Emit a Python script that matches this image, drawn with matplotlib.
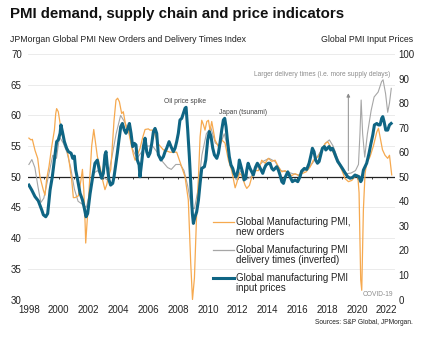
import matplotlib
matplotlib.use("Agg")
import matplotlib.pyplot as plt
from matplotlib.lines import Line2D

plt.rcParams["font.family"] = ["Liberation Sans", "DejaVu Sans"]

# ---- data ----
# Global Manufacturing PMI, new orders (left axis)
orders_t = [1998.0, 1998.14, 1998.23, 1998.41, 1998.59, 1998.74, 1998.97, 1999.08, 1999.19, 1999.35,
            1999.53, 1999.71, 1999.8, 1999.86, 1999.97, 2000.09, 2000.2, 2000.42, 2000.65, 2000.87,
            2000.98, 2001.09, 2001.32, 2001.5, 2001.59, 2001.68, 2001.77, 2001.81, 2001.94, 2002.1,
            2002.21, 2002.35, 2002.59, 2002.77, 2002.95, 2003.1, 2003.22, 2003.33, 2003.49, 2003.62,
            2003.71, 2003.84, 2003.95, 2004.07, 2004.22, 2004.33, 2004.51, 2004.67, 2004.89, 2005.01,
            2005.12, 2005.23, 2005.45, 2005.63, 2005.79, 2006.01, 2006.12, 2006.3, 2006.46, 2006.62,
            2007.01, 2007.46, 2007.91, 2008.25, 2008.47, 2008.69, 2008.85, 2008.97, 2009.1, 2009.25,
            2009.37, 2009.48, 2009.59, 2009.7, 2009.81, 2009.93, 2010.04, 2010.15, 2010.26, 2010.48,
            2010.71, 2010.93, 2011.15, 2011.38, 2011.6, 2011.83, 2011.94, 2012.12, 2012.27, 2012.5,
            2012.61, 2012.79, 2012.94, 2013.17, 2013.39, 2013.61, 2013.84, 2014.06, 2014.29, 2014.51,
            2014.73, 2014.96, 2015.18, 2015.4, 2015.63, 2015.85, 2016.08, 2016.3, 2016.59, 2016.86,
            2017.08, 2017.41, 2017.86, 2018.04, 2018.2, 2018.53, 2018.76, 2018.98, 2019.2, 2019.43,
            2019.65, 2019.87, 2020.05, 2020.14, 2020.25, 2020.32, 2020.43, 2020.54, 2020.65, 2020.88,
            2021.1, 2021.33, 2021.44, 2021.55, 2021.71, 2021.88, 2022.06, 2022.18, 2022.33]
orders_v = [56.3, 56.0, 56.1, 54.3, 53.0, 50.0, 47.8, 47.0, 49.6, 51.7,
            54.9, 57.6, 60.3, 61.1, 60.6, 58.7, 57.0, 55.5, 53.3, 49.5,
            46.6, 46.6, 46.9, 49.6, 51.2, 47.9, 42.4, 39.2, 44.0, 50.5,
            55.0, 57.7, 53.3, 51.6, 49.4, 47.9, 48.7, 50.0, 51.2, 56.0,
            59.2, 62.5, 62.8, 62.2, 60.3, 60.6, 58.1, 57.6, 54.9, 53.6,
            52.7, 53.3, 54.6, 56.4, 57.7, 57.8, 57.6, 57.6, 56.9, 55.5,
            54.4, 54.0, 54.0, 51.6, 50.0, 46.2, 36.0, 30.0, 33.5, 44.0,
            50.0, 56.5, 59.2, 58.5, 57.6, 59.0, 59.2, 57.5, 59.0, 56.0,
            54.9, 56.0, 55.5, 52.7, 51.0, 48.2, 49.0, 50.6, 50.2, 48.6,
            48.1, 48.6, 49.9, 51.0, 51.0, 52.7, 52.2, 53.0, 52.5, 52.7,
            51.6, 50.8, 51.0, 50.5, 50.2, 50.5, 50.2, 50.5, 50.8, 51.6,
            52.7, 53.3, 55.4, 55.7, 55.0, 53.3, 52.2, 51.1, 49.7, 49.2,
            49.4, 50.0, 50.3, 47.4, 33.2, 31.5, 44.6, 50.5, 52.2, 53.3,
            55.0, 57.3, 57.9, 56.5, 54.4, 53.5, 53.0, 53.5, 50.3]

# Global Manufacturing PMI delivery times, inverted (left axis)
deliv_t = [1998.0, 1998.2, 1998.4, 1998.6, 1998.8, 1999.0, 1999.3, 1999.6, 1999.85, 2000.05,
           2000.3, 2000.55, 2000.8, 2001.05, 2001.3, 2001.6, 2001.85, 2002.05, 2002.3, 2002.6,
           2002.95, 2003.25, 2003.55, 2003.85, 2004.15, 2004.4, 2004.7, 2004.95, 2005.25, 2005.55,
           2005.95, 2006.3, 2006.6, 2006.95, 2007.3, 2007.55, 2007.85, 2008.15, 2008.4, 2008.65,
           2008.9, 2009.1, 2009.35, 2009.6, 2009.9, 2010.2, 2010.5, 2010.8, 2011.1, 2011.35,
           2011.6, 2011.9, 2012.2, 2012.55, 2012.9, 2013.3, 2013.7, 2014.1, 2014.5, 2014.9,
           2015.3, 2015.7, 2016.1, 2016.5, 2016.95, 2017.4, 2017.9, 2018.15, 2018.4, 2018.7,
           2019.0, 2019.3, 2019.6, 2019.9, 2020.1, 2020.2, 2020.28, 2020.38, 2020.52, 2020.7,
           2020.95, 2021.15, 2021.42, 2021.65, 2021.75, 2021.92, 2022.06, 2022.18, 2022.3]
deliv_v = [52.0, 52.8, 51.5, 48.5, 45.8, 46.5, 50.0, 53.5, 53.0, 56.5,
           55.5, 54.0, 51.5, 48.0, 46.0, 45.5, 45.0, 47.0, 50.5, 51.0,
           50.0, 49.5, 53.0, 57.0, 60.0, 59.0, 57.5, 54.5, 53.0, 54.0,
           55.0, 55.0, 54.0, 52.5, 51.5, 51.2, 52.0, 52.0, 51.0, 48.5,
           45.0, 44.8, 48.0, 53.5, 57.0, 58.0, 55.5, 55.0, 57.0, 54.5,
           51.5, 49.5, 51.0, 49.5, 50.0, 51.5, 52.5, 53.0, 52.5, 51.0,
           50.8, 50.5, 50.3, 51.0, 52.0, 53.5, 55.5, 56.0, 55.0, 53.0,
           51.5, 50.5, 50.6, 51.0, 52.0, 57.0, 62.5, 57.0, 53.2, 57.0,
           60.8, 63.0, 63.8, 65.5, 65.8, 63.5, 60.5, 62.0, 64.4]

# Global manufacturing PMI input prices (right axis)
prices_t = [1998.0, 1998.19, 1998.41, 1998.63, 1998.86, 1998.97, 1999.13, 1999.26, 1999.42, 1999.57,
            1999.71, 1999.86, 1999.97, 2000.09, 2000.15, 2000.27, 2000.38, 2000.53, 2000.65, 2000.83,
            2000.94, 2001.05, 2001.14, 2001.27, 2001.43, 2001.59, 2001.72, 2001.83, 2001.94, 2002.1,
            2002.28, 2002.43, 2002.59, 2002.72, 2002.88, 2002.99, 2003.1, 2003.17, 2003.26, 2003.37,
            2003.48, 2003.62, 2003.71, 2003.84, 2003.93, 2004.04, 2004.16, 2004.27, 2004.4, 2004.51,
            2004.63, 2004.74, 2004.85, 2004.96, 2005.07, 2005.18, 2005.27, 2005.39, 2005.45, 2005.57,
            2005.68, 2005.79, 2005.9, 2006.01, 2006.12, 2006.24, 2006.35, 2006.46, 2006.57, 2006.68,
            2006.86, 2007.02, 2007.13, 2007.24, 2007.4, 2007.53, 2007.69, 2007.8, 2007.91, 2008.02,
            2008.13, 2008.25, 2008.36, 2008.47, 2008.54, 2008.65, 2008.76, 2008.87, 2008.96, 2009.03,
            2009.14, 2009.25, 2009.37, 2009.48, 2009.59, 2009.77, 2009.86, 2009.99, 2010.1, 2010.21,
            2010.33, 2010.44, 2010.6, 2010.71, 2010.82, 2010.93, 2011.04, 2011.13, 2011.22, 2011.31,
            2011.44, 2011.55, 2011.67, 2011.76, 2011.87, 2011.94, 2012.05, 2012.11, 2012.2, 2012.32,
            2012.43, 2012.54, 2012.61, 2012.7, 2012.83, 2012.94, 2013.05, 2013.19, 2013.32, 2013.46,
            2013.57, 2013.68, 2013.79, 2013.9, 2014.06, 2014.17, 2014.29, 2014.4, 2014.51, 2014.62,
            2014.73, 2014.84, 2014.96, 2015.07, 2015.18, 2015.36, 2015.51, 2015.67, 2015.85, 2016.03,
            2016.18, 2016.29, 2016.47, 2016.63, 2016.79, 2016.92, 2017.01, 2017.12, 2017.23, 2017.35,
            2017.46, 2017.57, 2017.68, 2017.82, 2017.91, 2018.02, 2018.13, 2018.24, 2018.35, 2018.46,
            2018.58, 2018.71, 2018.87, 2019.02, 2019.2, 2019.38, 2019.54, 2019.7, 2019.87, 2020.14,
            2020.25, 2020.32, 2020.43, 2020.54, 2020.65, 2020.81, 2020.94, 2021.06, 2021.17, 2021.33,
            2021.44, 2021.55, 2021.66, 2021.73, 2021.82, 2021.93, 2022.06, 2022.18, 2022.29]
prices_v = [46.6, 44.6, 41.9, 40.2, 36.5, 34.5, 33.7, 35.0, 44.6, 50.0,
            56.8, 64.3, 65.0, 67.7, 71.1, 67.7, 64.3, 61.6, 60.2, 59.6,
            57.5, 58.4, 52.7, 48.7, 43.3, 40.6, 37.1, 33.7, 35.0, 43.0,
            50.0, 55.5, 56.8, 52.7, 49.4, 51.4, 58.9, 60.2, 54.1, 48.7,
            46.6, 47.3, 50.0, 55.5, 59.6, 65.0, 70.4, 71.7, 69.0, 67.7,
            69.7, 71.7, 67.7, 62.3, 63.6, 63.0, 56.8, 54.8, 50.0, 56.2,
            62.3, 65.7, 60.2, 58.2, 59.6, 63.6, 68.4, 69.7, 67.7, 59.0,
            56.8, 58.2, 60.2, 61.6, 64.3, 62.3, 60.2, 61.6, 64.3, 67.7,
            73.1, 73.8, 75.8, 77.9, 78.3, 69.0, 58.2, 45.9, 35.1, 31.0,
            33.7, 35.7, 40.5, 47.3, 53.4, 54.1, 56.8, 65.0, 68.4, 66.5,
            61.6, 58.9, 57.5, 59.6, 64.0, 69.0, 73.1, 73.8, 70.4, 65.0,
            58.2, 54.8, 53.4, 51.4, 50.0, 50.7, 53.4, 56.8, 54.8, 52.0,
            48.7, 49.4, 52.7, 55.5, 53.4, 52.0, 50.7, 53.8, 55.5, 54.1,
            52.7, 51.4, 53.4, 54.8, 55.5, 55.5, 53.4, 52.7, 53.4, 54.1,
            52.7, 50.7, 48.0, 47.3, 49.7, 52.0, 50.0, 48.0, 48.7, 48.0,
            50.0, 52.3, 53.4, 53.0, 55.5, 58.9, 61.6, 60.2, 56.8, 55.5,
            56.2, 58.9, 61.6, 62.3, 60.9, 61.6, 62.3, 60.9, 61.6, 60.2,
            58.2, 56.2, 54.8, 53.4, 51.6, 50.0, 49.4, 49.7, 50.7, 50.0,
            48.0, 48.7, 52.7, 54.1, 55.5, 59.6, 63.6, 67.0, 71.1, 71.7,
            71.1, 71.1, 73.8, 74.5, 72.4, 69.0, 69.0, 71.1, 71.7]

year_ticks = list(range(1998, 2023, 2))
left_ticks = list(range(30, 71, 5))
right_ticks = list(range(0, 101, 10))

ORANGE = "#f6a94f"
GREY = "#a6a6a6"
TEAL = "#0f6584"

legend_labels = ["Global Manufacturing PMI,\nnew orders",
                 "Global Manufacturing PMI\ndelivery times (inverted)",
                 "Global manufacturing PMI\ninput prices"]
legend_styles = [(ORANGE, 0.9), (GREY, 0.9), (TEAL, 2.2)]

W, H = 428, 340
fig = plt.figure(figsize=(W / 100, H / 100), dpi=100)


def fx(px):
    return px / W


def fy(py):
    return 1 - py / H


ax = fig.add_axes([fx(28), fy(299.5), fx(395 - 28), (299.5 - 54) / H])
ax.set_xlim(1997.94, 2022.55)
ax.set_ylim(30, 70)
ax.set_yticks(left_ticks)
ax.set_xticks(year_ticks)
ax.grid(axis="y", color="#e8e8e8", lw=0.6)
ax.set_axisbelow(True)
for s in ax.spines.values():
    s.set_visible(False)
ax.tick_params(axis="y", length=0, pad=4.5, labelsize=7, labelcolor="#222222")
ax.tick_params(axis="x", length=0, pad=4.0, labelsize=7, labelcolor="#222222")

# black 50 line with little yearly ticks
ax.axhline(50, color="#222222", lw=0.9, zorder=1.5)
ax.vlines(range(1999, 2023), 49.6, 50, color="#222222", lw=0.6, zorder=1.5)

ax.plot(deliv_t, deliv_v, color=GREY, lw=0.8, zorder=2)
ax.plot(orders_t, orders_v, color=ORANGE, lw=0.9, zorder=2.2)

ax2 = ax.twinx()
ax2.set_ylim(0, 100)
ax2.set_yticks(right_ticks)
for s in ax2.spines.values():
    s.set_visible(False)
ax2.tick_params(axis="y", length=0, pad=2.5, labelsize=7, labelcolor="#222222")
ax2.plot(prices_t, prices_v, color=TEAL, lw=2.2, solid_joinstyle="round")

# annotations
ax.text(2008.47, 62.3, "Oil price spike", fontsize=4.8, color="#444444", ha="center", va="center")
ax.text(2012.36, 60.5, "Japan (tsunami)", fontsize=4.8, color="#444444", ha="center", va="center")
ax.text(2022.22, 66.6, "Larger delivery times (i.e. more supply delays)", fontsize=4.8,
        color="#8c8c8c", ha="right", va="center")
ax.text(2021.41, 30.8, "COVID-19", fontsize=4.8, color="#8c8c8c", ha="center", va="center")
ax.annotate("", xy=(2019.42, 63.6), xytext=(2019.42, 51.0),
            arrowprops=dict(arrowstyle="-|>", color="#8c8c8c", lw=0.7,
                            mutation_scale=5, shrinkA=0, shrinkB=0))

# titles
fig.text(fx(10), fy(14), "PMI demand, supply chain and price indicators",
         fontsize=10.8, fontweight="bold", va="center", ha="left", color="#111111")
fig.text(fx(10), fy(40), "JPMorgan Global PMI New Orders and Delivery Times Index",
         fontsize=6.35, va="center", ha="left", color="#222222")
fig.text(fx(413), fy(40), "Global PMI Input Prices",
         fontsize=6.35, va="center", ha="right", color="#222222")
fig.text(fx(413), fy(322), "Sources: S&P Global, JPMorgan.",
         fontsize=4.8, va="center", ha="right", color="#222222")

# legend drawn by hand so the handle sits on the first text line
for i, (lab, (col, lw)) in enumerate(zip(legend_labels, legend_styles)):
    y0 = 222 + 28 * i
    fig.add_artist(Line2D([fx(213), fx(234)], [fy(y0), fy(y0)], color=col, lw=lw,
                          transform=fig.transFigure))
    fig.text(fx(235.5), fy(y0 - 5), lab, fontsize=7, va="top", ha="left",
             color="#222222", linespacing=1.05)

fig.savefig("out.png", dpi=100)
